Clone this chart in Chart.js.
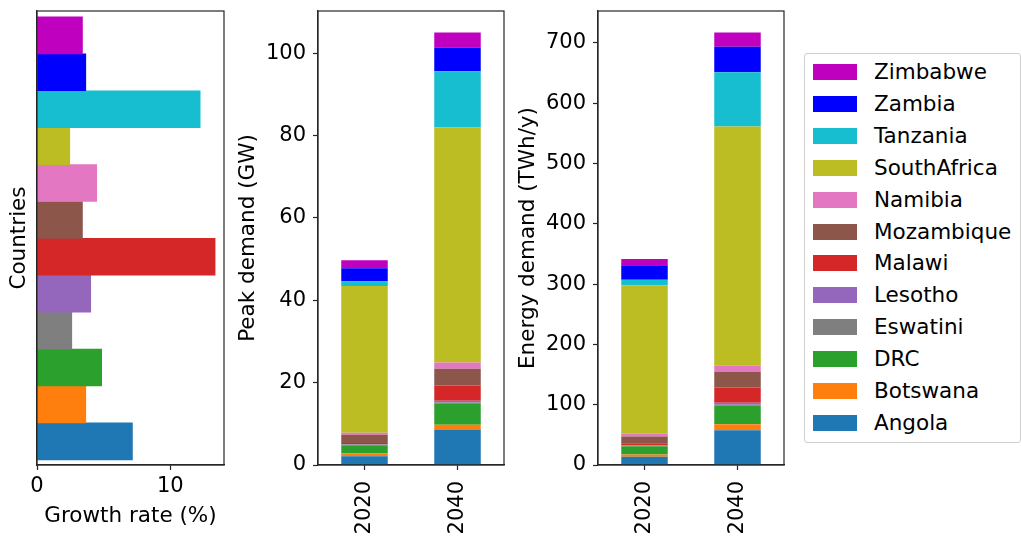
<!DOCTYPE html>
<html>
<head>
<meta charset="utf-8">
<script src="https://cdn.jsdelivr.net/npm/chart.js@4.4.1/dist/chart.umd.min.js"></script>
<style>
  body { margin: 0; width: 1021px; height: 537px; overflow: hidden; background: #fff; font-family: "DejaVu Sans", sans-serif; }
  .panel { position: absolute; top: 0; }
  #legend { position: absolute; left: 804px; top: 53px; width: 215px; height: 388px; border: 1px solid #d0d0d0; border-radius: 3px; }
  .row { position: absolute; left: 0; height: 20px; }
  .sw { position: absolute; left: 8px; top: 2px; width: 44px; height: 16px; }
  .lbl { position: absolute; left: 69px; top: -3px; font-size: 21.5px; color: #000; white-space: nowrap; line-height: 26px; }
</style>
</head>
<body>
<div class="panel" style="left:0px"><canvas id="growth" width="226" height="537"></canvas></div>
<div class="panel" style="left:230px"><canvas id="peak" width="280" height="537"></canvas></div>
<div class="panel" style="left:510px"><canvas id="energy" width="280" height="537"></canvas></div>
<div id="legend"></div>
<script>
// pays (ordre d'empilement, du bas vers le haut)
const countries = ['Angola', 'Botswana', 'DRC', 'Eswatini', 'Lesotho', 'Malawi', 'Mozambique', 'Namibia', 'SouthAfrica', 'Tanzania', 'Zambia', 'Zimbabwe'];
const colors = ['#1f77b4', '#ff7f0e', '#2ca02c', '#7f7f7f', '#9467bd', '#d62728', '#8c564b', '#e377c2', '#bcbd22', '#17becf', '#0000ff', '#bf00bf'];
const years = ['2020', '2040'];

// taux de croissance (%)
const growthRate = [7.16, 3.66, 4.85, 2.61, 4.03, 13.36, 3.41, 4.48, 2.46, 12.24, 3.66, 3.41];

// pointe (GW)
const peak2020 = [2.1, 0.75, 1.95, 0.15, 0.1, 0.3, 2.0, 0.5, 35.6, 1.2, 3.15, 1.95];
const peak2040 = [8.6, 1.2, 5.2, 0.2, 0.4, 3.7, 4.1, 1.5, 57.1, 13.6, 5.8, 3.6];

// énergie (TWh/y)
const energy2020 = [13.5, 3.9, 13.7, 1.0, 0.6, 3.3, 11.1, 5.0, 246, 9, 23, 11.5];
const energy2040 = [57.5, 10, 30.9, 1.5, 3.4, 25.3, 26, 9.9, 396.8, 90.1, 42.2, 23.4];

// graduations
const growthTicks = [0, 10];
const peakTicks = [0, 20, 40, 60, 80, 100];
const energyTicks = [0, 100, 200, 300, 400, 500, 600, 700];

Chart.defaults.font.family = '"DejaVu Sans", sans-serif';
Chart.defaults.font.size = 21;
Chart.defaults.color = '#000';
Chart.defaults.animation = false;

const edge = '#262626';
const titleFont = { size: 21.5 };

// cadre complet autour de la zone de tracé
const framePlugin = {
    id: 'frame',
    afterDraw(chart) {
        const { ctx, chartArea: a } = chart;
        ctx.save();
        ctx.strokeStyle = edge;
        ctx.lineWidth = 1.2;
        ctx.strokeRect(a.left, a.top, a.right - a.left, a.bottom - a.top);
        ctx.restore();
    }
};

const sum = arr => arr.reduce((s, v) => s + v, 0);
const setTicks = values => scale => { scale.ticks = values.map(v => ({ value: v })); };
const noPad = s => { s.paddingTop = 0; s.paddingBottom = 0; s.paddingLeft = 0; s.paddingRight = 0; };

function valueAxis(ticks, max, title, width) {
    return {
        min: 0,
        max: max,
        afterBuildTicks: setTicks(ticks),
        afterFit: s => { s.width = width; noPad(s); },
        grid: { display: true, drawOnChartArea: false, tickLength: 5, color: edge, tickWidth: 1.2 },
        border: { display: true, color: edge, width: 1.2 },
        ticks: { padding: 7 },
        title: { display: true, text: title, font: titleFont, padding: { top: 6 } }
    };
}

function yearAxis() {
    return {
        stacked: true,
        afterFit: s => { s.height = 72; noPad(s); },
        grid: { display: true, drawOnChartArea: false, tickLength: 5, color: edge, tickWidth: 1.2, offset: false },
        border: { display: true, color: edge, width: 1.2 },
        ticks: { minRotation: 90, maxRotation: 90, padding: 11, autoSkip: false }
    };
}

function stackedChart(id, first, second, ticks, title) {
    const max = Math.max(sum(first), sum(second)) * 1.05;
    new Chart(document.getElementById(id), {
        type: 'bar',
        data: {
            labels: years,
            datasets: countries.map((c, i) => ({
                label: c,
                data: [first[i], second[i]],
                backgroundColor: colors[i],
                borderWidth: 0,
                categoryPercentage: 1,
                barPercentage: 0.5
            }))
        },
        options: {
            responsive: false,
            layout: { padding: { top: 11, right: 6, left: 0, bottom: 0 } },
            plugins: { legend: { display: false }, tooltip: { enabled: false } },
            scales: {
                x: yearAxis(),
                y: Object.assign(valueAxis(ticks, max, title, 88), { stacked: true })
            }
        },
        plugins: [framePlugin]
    });
}

// taux de croissance, barres horizontales (axe y numérique pour garder une petite marge)
new Chart(document.getElementById('growth'), {
    type: 'bar',
    data: {
        datasets: [{
            data: growthRate.map((v, i) => ({ x: v, y: i })),
            backgroundColor: colors,
            borderWidth: 0,
            categoryPercentage: 1,
            barPercentage: 1
        }]
    },
    options: {
        indexAxis: 'y',
        responsive: false,
        layout: { padding: { top: 11, right: 2, left: 0, bottom: 0 } },
        plugins: { legend: { display: false }, tooltip: { enabled: false } },
        scales: {
            x: {
                type: 'linear',
                min: 0,
                max: Math.max(...growthRate) * 1.05,
                afterBuildTicks: setTicks(growthTicks),
                afterFit: s => { s.height = 72; noPad(s); },
                grid: { display: true, drawOnChartArea: false, tickLength: 5, color: edge, tickWidth: 1.2 },
                border: { display: true, color: edge, width: 1.2 },
                ticks: { padding: 4, maxRotation: 0, minRotation: 0 },
                title: { display: true, text: 'Growth rate (%)', font: titleFont, padding: { bottom: 8 } }
            },
            y: {
                type: 'linear',
                offset: false,
                min: -0.64,
                max: countries.length - 1 + 0.66,
                afterFit: s => { s.width = 37; noPad(s); },
                grid: { display: false, offset: false },
                border: { display: true, color: edge, width: 1.2 },
                ticks: { display: false },
                title: { display: true, text: 'Countries', font: titleFont, padding: { top: 7 } }
            }
        }
    },
    plugins: [framePlugin]
});

stackedChart('peak', peak2020, peak2040, peakTicks, 'Peak demand (GW)');
stackedChart('energy', energy2020, energy2040, energyTicks, 'Energy demand (TWh/y)');

// légende (Zimbabwe en haut)
const legend = document.getElementById('legend');
countries.slice().reverse().forEach((c, k) => {
    const i = countries.length - 1 - k;
    const row = document.createElement('div');
    row.className = 'row';
    row.style.top = (8 + k * 31.9) + 'px';
    row.style.width = '100%';
    row.innerHTML = '<div class="sw" style="background:' + colors[i] + '"></div><div class="lbl">' + c + '</div>';
    legend.appendChild(row);
});
</script>
</body>
</html>
